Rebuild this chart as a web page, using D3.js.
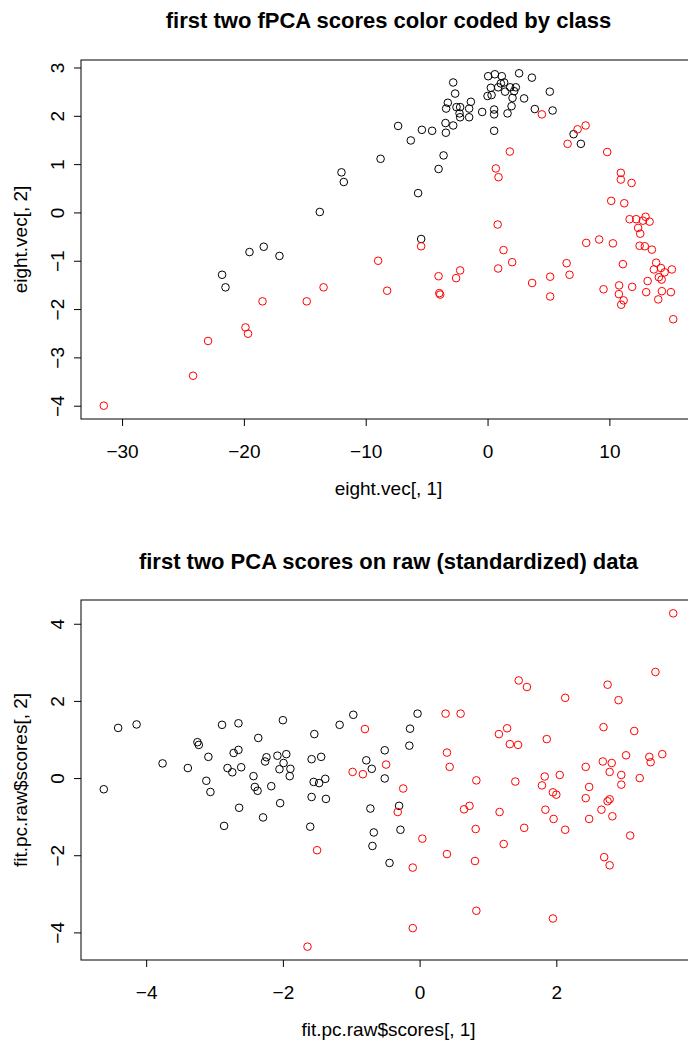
<!DOCTYPE html>
<html><head><meta charset="utf-8">
<script src="https://cdn.jsdelivr.net/npm/d3@7"></script>
<style>body{margin:0;background:#fff}svg{display:block}text{font-family:"Liberation Sans",Arial,Helvetica,sans-serif}</style>
</head><body><svg id="c" width="688" height="1041"></svg>
<script>
// ---- Panel 1: fPCA scores (eight.vec[,1], eight.vec[,2]) ----
const fpcaClass1 = [
[-2.82,2.69],[-2.66,2.46],[-3.26,2.27],[-3.40,2.15],[-2.55,2.18],[-2.25,2.18],[-2.30,2.05],[-2.25,1.97],
[-1.51,2.15],[-1.37,2.29],[-1.51,1.97],[-0.44,2.08],[0.00,2.41],[0.33,2.43],[0.27,2.58],[0.05,2.82],
[0.60,2.86],[0.87,2.59],[0.54,2.13],[0.54,2.03],[0.54,1.69],[-7.34,1.79],[-5.39,1.71],[-4.55,1.69],
[-3.45,1.85],[-3.42,1.65],[-2.82,1.80],[-6.30,1.49],[-8.78,1.11],[-3.61,1.18],[-4.02,0.90],[-11.99,0.83],
[-11.80,0.63],[-5.70,0.40],[-13.77,0.01],[-5.45,-0.55],[1.17,2.82],[2.59,2.88],[3.64,2.79],[1.09,2.67],
[1.36,2.69],[1.44,2.50],[1.86,2.59],[2.32,2.59],[2.18,2.51],[2.05,2.37],[3.00,2.36],[5.11,2.50],
[1.97,2.20],[1.64,2.05],[3.88,2.14],[5.34,2.11],[7.06,1.62],[7.66,1.42],[-19.54,-0.82],[-18.37,-0.71],
[-17.08,-0.90],[-21.79,-1.29],[-21.51,-1.55]
];
const fpcaClass2 = [
[0.68,0.91],[0.90,0.73],[0.83,-0.25],[-5.45,-0.70],[4.46,2.03],[7.39,1.72],[8.05,1.80],[6.57,1.42],
[1.83,1.26],[9.82,1.25],[10.94,0.82],[10.94,0.68],[11.82,0.61],[10.15,0.24],[11.22,0.19],[11.66,-0.14],
[12.20,-0.14],[12.75,-0.17],[12.97,-0.09],[13.30,-0.19],[12.36,-0.32],[12.53,-0.44],[8.10,-0.63],[9.16,-0.56],
[10.29,-0.64],[12.48,-0.69],[12.91,-0.70],[13.49,-0.77],[1.31,-0.78],[0.87,-1.16],[2.02,-1.03],[3.66,-1.46],
[5.14,-1.33],[5.14,-1.74],[6.49,-1.05],[6.73,-1.29],[9.52,-1.59],[10.80,-1.51],[10.78,-1.69],[11.11,-1.07],
[11.17,-1.82],[10.97,-1.91],[11.87,-1.54],[13.84,-1.04],[13.65,-1.18],[14.23,-1.15],[14.53,-1.24],[15.13,-1.18],
[14.06,-1.34],[14.29,-1.39],[13.14,-1.42],[13.02,-1.65],[14.31,-1.63],[15.05,-1.65],[14.01,-1.80],[15.24,-2.21],
[-8.98,-1.00],[-13.46,-1.55],[-14.84,-1.84],[-8.24,-1.62],[-4.02,-1.32],[-3.89,-1.70],[-3.96,-1.67],[-2.58,-1.36],
[-2.25,-1.20],[-18.47,-1.84],[-19.87,-2.38],[-19.66,-2.51],[-22.94,-2.66],[-24.17,-3.38],[-31.50,-4.00]
];
const fpcaXTicks = [-30,-20,-10,0,10];
const fpcaYTicks = [-4,-3,-2,-1,0,1,2,3];

// ---- Panel 2: PCA scores on raw standardized data ----
const pcaClass1 = [
[-4.41,1.30],[-4.14,1.39],[-2.89,1.38],[-2.65,1.42],[-2.00,1.50],[-0.97,1.64],[-1.17,1.38],[-1.54,1.14],
[-2.36,1.04],[-3.25,0.93],[-3.23,0.86],[-3.76,0.38],[-3.39,0.26],[-3.09,0.55],[-2.72,0.65],[-2.65,0.73],
[-2.81,0.26],[-2.74,0.15],[-2.61,0.28],[-2.43,0.05],[-2.24,0.54],[-2.26,0.43],[-2.08,0.58],[-1.95,0.62],
[-1.99,0.39],[-2.05,0.23],[-1.89,0.24],[-1.90,0.05],[-1.58,0.49],[-1.44,0.55],[-0.78,0.46],[-0.70,0.24],
[-0.51,0.72],[-0.51,-0.01],[-3.12,-0.07],[-1.55,-0.10],[-1.38,-0.02],[-1.47,-0.13],[-0.03,1.67],[-0.14,1.28],
[-0.15,0.84],[-4.62,-0.29],[-3.06,-0.36],[-2.41,-0.23],[-2.37,-0.33],[-2.17,-0.21],[-1.58,-0.49],[-1.37,-0.54],
[-2.64,-0.77],[-2.04,-0.65],[-2.29,-1.02],[-2.86,-1.24],[-1.60,-1.26],[-0.72,-0.79],[-0.67,-1.41],[-0.69,-1.76],
[-0.30,-0.72],[-0.28,-1.34],[-0.44,-2.20]
];
const pcaClass2 = [
[-0.80,1.27],[-0.98,0.16],[-0.83,0.10],[-0.49,0.35],[3.71,4.27],[3.45,2.75],[1.45,2.53],[1.57,2.36],
[2.75,2.42],[2.13,2.08],[2.91,2.02],[0.38,1.67],[0.60,1.67],[1.28,1.29],[1.16,1.14],[2.69,1.32],
[3.14,1.22],[1.86,1.01],[1.32,0.88],[1.44,0.86],[0.40,0.66],[0.44,0.29],[2.68,0.43],[2.81,0.39],
[2.78,0.16],[3.02,0.59],[3.36,0.55],[3.38,0.41],[3.55,0.62],[2.43,0.29],[2.05,0.08],[1.83,0.04],
[2.95,0.08],[3.22,0.00],[0.83,-0.06],[1.40,-0.09],[-1.50,-1.87],[-1.64,-4.37],[-0.24,-0.27],[-0.32,-0.88],
[0.04,-1.57],[-0.10,-2.32],[-0.10,-3.89],[0.40,-1.97],[0.65,-0.81],[0.73,-0.72],[0.82,-1.32],[0.81,-2.15],
[0.83,-3.44],[1.17,-0.88],[1.23,-1.71],[1.53,-1.29],[1.79,-0.19],[1.95,-0.37],[2.00,-0.43],[1.84,-0.82],
[1.96,-1.06],[2.13,-1.34],[1.95,-3.64],[2.48,-0.23],[2.43,-0.52],[2.48,-1.06],[2.66,-0.82],[2.75,-0.60],
[2.78,-0.55],[2.82,-0.99],[2.95,-0.17],[3.08,-1.49],[2.70,-2.05],[2.78,-2.26]
];
const pcaXTicks = [-4,-2,0,2,4];
const pcaYTicks = [-4,-2,0,2,4];

const classColors = ["#000000","#FF0000"];

const svg = d3.select("#c");
const L = 81, R = 696;
const FONT = '"Liberation Sans",Arial,Helvetica,sans-serif';

function panel(cfg){
  const all = cfg.c1.concat(cfg.c2);
  const xe = d3.extent(all, d => d[0]), ye = d3.extent(all, d => d[1]);
  const padX = (xe[1]-xe[0])*0.04, padY = (ye[1]-ye[0])*0.04;
  const x = d3.scaleLinear().domain([xe[0]-padX, xe[1]+padX]).range([L, R]);
  const y = d3.scaleLinear().domain([ye[0]-padY, ye[1]+padY]).range([cfg.bottom, cfg.top]);
  const g = svg.append("g");

  [[cfg.c1, classColors[0]], [cfg.c2, classColors[1]]].forEach(([pts, col]) => {
    g.append("g").selectAll("circle").data(pts).join("circle")
      .attr("cx", d => x(d[0])).attr("cy", d => y(d[1])).attr("r", 3.8)
      .attr("fill", "none").attr("stroke", col).attr("stroke-width", 1);
  });

  g.append("rect").attr("x", L).attr("y", cfg.top).attr("width", R-L).attr("height", cfg.bottom-cfg.top)
    .attr("fill", "none").attr("stroke", "#000").attr("stroke-width", 1);

  const xa = g.append("g").attr("transform", `translate(0,${cfg.bottom})`)
    .call(d3.axisBottom(x).tickValues(cfg.xt).tickSize(7).tickFormat(d3.format("d")));
  xa.select(".domain").remove();
  xa.selectAll("text").attr("y", 32).attr("dy", "0.35em").attr("font-size", 19).attr("fill", "#000")
    .style("font-family", FONT);

  const ya = g.append("g").attr("transform", `translate(${L},0)`)
    .call(d3.axisLeft(y).tickValues(cfg.yt).tickSize(7).tickFormat(d3.format("d")));
  ya.select(".domain").remove();
  ya.selectAll("text").attr("transform", "rotate(-90)").attr("x", 0).attr("y", -24).attr("dy", "0.35em")
    .attr("text-anchor", "middle").attr("font-size", 19).attr("fill", "#000")
    .style("font-family", FONT);

  const cx = (L + R) / 2;
  g.append("text").attr("x", cx).attr("y", cfg.titleY).attr("text-anchor", "middle").attr("dy", "0.35em")
    .attr("font-size", 22).attr("font-weight", "bold").text(cfg.title);
  g.append("text").attr("x", cx).attr("y", cfg.bottom + 69).attr("text-anchor", "middle").attr("dy", "0.35em")
    .attr("font-size", 19).text(cfg.xlab);
  g.append("text").attr("transform", `translate(20,${(cfg.top+cfg.bottom)/2}) rotate(-90)`)
    .attr("text-anchor", "middle").attr("dy", "0.35em").attr("font-size", 19).text(cfg.ylab);
}

panel({c1: fpcaClass1, c2: fpcaClass2, top: 60, bottom: 419, xt: fpcaXTicks, yt: fpcaYTicks,
  title: "first two fPCA scores color coded by class", titleY: 20,
  xlab: "eight.vec[, 1]", ylab: "eight.vec[, 2]"});
panel({c1: pcaClass1, c2: pcaClass2, top: 600, bottom: 960, xt: pcaXTicks, yt: pcaYTicks,
  title: "first two PCA scores on raw (standardized) data", titleY: 561,
  xlab: "fit.pc.raw$scores[, 1]", ylab: "fit.pc.raw$scores[, 2]"});
</script></body></html>
